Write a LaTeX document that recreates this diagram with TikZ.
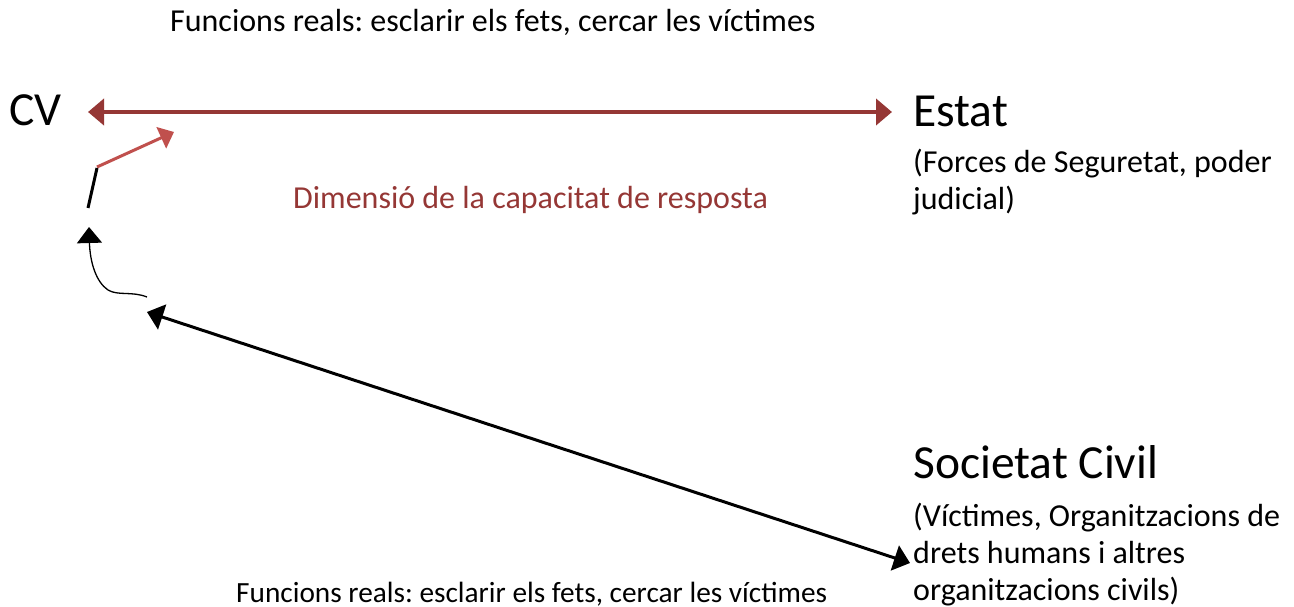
\documentclass[tikz,border=0pt]{standalone}
\usepackage{fontspec}
\setmainfont{Carlito}
\usetikzlibrary{arrows.meta}
\frenchspacing

\definecolor{darkred}{HTML}{953735}
\definecolor{lightred}{HTML}{C0504D}

\tikzset{
  txt/.style={anchor=base west, inner sep=0pt, font=\fontsize{32}{38}\selectfont},
  smalltxt/.style={anchor=base west, inner sep=0pt, font=\fontsize{29.3}{35}\selectfont},
  big/.style={anchor=base west, inner sep=0pt, font=\fontsize{47.5}{56}\selectfont},
  bigtip/.tip={Triangle[length=16pt,width=26pt]},
}

\begin{document}
\begin{tikzpicture}[x=1pt,y=-1pt]
        \useasboundingbox (0,0) rectangle (1294,607);
        % texts
        \node[txt] (top) at (170,32) {Funcions reals: esclarir els fets, cercar les víctimes};
        \node[big] (cv) at (9,126) {CV};
        \node[big] (estat) at (913,127) {Estat};
        \node[txt] (forces) at (913,173) {(Forces de Seguretat, poder};
        \node[txt] (judicial) at (913,210) {judicial)};
        \node[txt, text=darkred] (dim) at (293,208) {Dimensió de la capacitat de resposta};
        \node[big] (soc) at (913,478) {Societat Civil};
        \node[txt] (vict) at (913,526) {(Víctimes, Organitzacions de};
        \node[txt] (drets) at (913,563) {drets humans i altres};
        \node[txt] (orgs) at (913,600) {organitzacions civils)};
        \node[smalltxt] (bottom) at (236,602) {Funcions reals: esclarir els fets, cercar les víctimes};
        % arrow ends
        \coordinate (r1) at (88,112);
        \coordinate (r2) at (892,112);
        \coordinate (l1) at (97,167);
        \coordinate (l2) at (174,132);
        \coordinate (s1) at (97,168);
        \coordinate (s2) at (88,208);
        \coordinate (c1) at (147,297);
        \coordinate (c2) at (89,227);
        \coordinate (b1) at (147,312);
        \coordinate (b2) at (910,563);
        % arrows
        \draw[darkred, line width=4pt, bigtip-bigtip] (r1) -- (r2);
        \draw[lightred, line width=3pt, -{Triangle[length=14pt,width=23pt]}] (l1) -- (l2);
        \draw[line width=3pt] (s1) -- (s2);
        \draw[line width=1.3pt, -{Triangle[length=16pt,width=25pt]}] (c1) .. controls (132,291) and (118,296) .. (108,290) .. controls (96,282) and (90,262) .. (c2);
        \draw[line width=3pt, bigtip-bigtip] (b1) -- (b2);
    \end{tikzpicture}
\end{document}
